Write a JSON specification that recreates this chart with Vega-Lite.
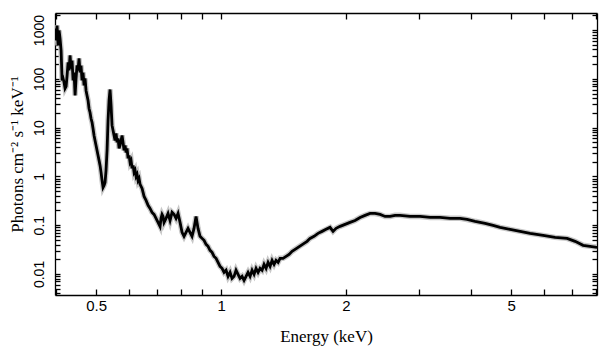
{
  "$schema": "https://vega.github.io/schema/vega-lite/v6.json",
  "width": 542,
  "height": 282,
  "autosize": "none",
  "padding": {"left": 55, "top": 13, "right": 12, "bottom": 62},
  "background": "white",
  "config": {
    "view": {"stroke": null},
    "axis": {
      "domainColor": "black", "domainWidth": 1.3,
      "tickColor": "black", "tickWidth": 1.3,
      "labelFont": "Liberation Sans", "labelFontSize": 15, "labelColor": "black",
      "titleFont": "Liberation Serif", "titleFontSize": 17, "titleFontWeight": "normal", "titleColor": "black",
      "grid": false, "labelOverlap": false, "labelFlush": false
    }
  },
  "data": {"values": [
    {"e":0.398,"f":1079},{"e":0.400,"f":612},{"e":0.4026,"f":1242},{"e":0.4048,"f":484},{"e":0.4071,"f":981},{"e":0.4093,"f":673},{"e":0.4117,"f":382},{"e":0.4140,"f":92.8},{"e":0.4163,"f":102},{"e":0.4186,"f":84.4},
    {"e":0.4209,"f":63.6},{"e":0.4233,"f":69.8},{"e":0.4256,"f":117},{"e":0.4280,"f":217},{"e":0.4303,"f":149},{"e":0.4327,"f":302},{"e":0.4351,"f":163},{"e":0.4375,"f":238},{"e":0.4400,"f":92.8},{"e":0.4424,"f":135},
    {"e":0.4449,"f":45.7},{"e":0.4473,"f":102},{"e":0.4498,"f":188},{"e":0.4523,"f":149},{"e":0.4548,"f":262},{"e":0.4573,"f":135},{"e":0.4599,"f":188},{"e":0.4624,"f":92.8},{"e":0.4650,"f":135},{"e":0.4676,"f":73.2},
    {"e":0.4702,"f":102},{"e":0.4728,"f":57.8},{"e":0.4754,"f":45.7},{"e":0.4781,"f":36.1},{"e":0.4807,"f":24.7},{"e":0.4834,"f":20.5},{"e":0.4861,"f":15.4},{"e":0.4888,"f":12.8},{"e":0.4915,"f":9.63},{"e":0.4943,"f":6.92},
    {"e":0.4970,"f":5.47},{"e":0.4998,"f":4.32},{"e":0.5026,"f":3.41},{"e":0.5054,"f":2.69},{"e":0.5082,"f":2.13},{"e":0.5110,"f":1.68},{"e":0.5139,"f":1.21},{"e":0.5167,"f":0.828},{"e":0.5196,"f":0.595},{"e":0.5225,"f":0.654},
    {"e":0.5254,"f":0.754},{"e":0.5283,"f":1.33},{"e":0.5313,"f":3.41},{"e":0.5342,"f":14.0},{"e":0.5372,"f":36.1},{"e":0.5402,"f":60.6},{"e":0.5432,"f":28.5},{"e":0.5462,"f":11.1},{"e":0.5493,"f":8.76},{"e":0.5523,"f":6.92},
    {"e":0.5554,"f":5.47},{"e":0.5585,"f":7.61},{"e":0.5616,"f":4.98},{"e":0.5647,"f":6.01},{"e":0.5679,"f":3.75},{"e":0.5710,"f":4.32},{"e":0.5742,"f":5.47},{"e":0.5774,"f":6.92},{"e":0.5806,"f":4.98},{"e":0.5838,"f":3.41},
    {"e":0.5871,"f":4.32},{"e":0.5904,"f":3.10},{"e":0.5936,"f":3.75},{"e":0.5970,"f":2.34},{"e":0.6003,"f":2.69},{"e":0.6036,"f":1.94},{"e":0.6070,"f":2.13},{"e":0.6103,"f":1.46},{"e":0.6138,"f":1.68},{"e":0.6172,"f":1.21},
    {"e":0.6206,"f":1.33},{"e":0.6241,"f":1.00},{"e":0.6275,"f":1.10},{"e":0.6310,"f":0.828},{"e":0.6345,"f":0.910},{"e":0.6381,"f":0.686},{"e":0.6452,"f":0.568},{"e":0.6524,"f":0.389},{"e":0.6596,"f":0.322},{"e":0.6670,"f":0.255},
    {"e":0.6744,"f":0.221},{"e":0.6819,"f":0.183},{"e":0.6895,"f":0.166},{"e":0.6972,"f":0.138},{"e":0.7050,"f":0.114},{"e":0.7128,"f":0.0945},{"e":0.7168,"f":0.138},{"e":0.7208,"f":0.166},{"e":0.7248,"f":0.151},{"e":0.7288,"f":0.114},
    {"e":0.7369,"f":0.138},{"e":0.7452,"f":0.174},{"e":0.7535,"f":0.125},{"e":0.7619,"f":0.183},{"e":0.7704,"f":0.166},{"e":0.7790,"f":0.138},{"e":0.7877,"f":0.174},{"e":0.7965,"f":0.114},{"e":0.8054,"f":0.0712},{"e":0.8143,"f":0.0590},
    {"e":0.8234,"f":0.0712},{"e":0.8326,"f":0.0860},{"e":0.8418,"f":0.0712},{"e":0.8512,"f":0.0590},{"e":0.8607,"f":0.0860},{"e":0.8704,"f":0.151},{"e":0.8800,"f":0.0860},{"e":0.8899,"f":0.0590},{"e":0.8999,"f":0.0536},{"e":0.9100,"f":0.0488},
    {"e":0.9202,"f":0.0404},{"e":0.9304,"f":0.0368},{"e":0.9408,"f":0.0305},{"e":0.9513,"f":0.0277},{"e":0.9619,"f":0.0229},{"e":0.9727,"f":0.0209},{"e":0.9835,"f":0.0173},{"e":0.9945,"f":0.0143},{"e":1.0056,"f":0.0130},{"e":1.0168,"f":0.0108},
    {"e":1.0281,"f":0.0119},{"e":1.0396,"f":0.00893},{"e":1.0512,"f":0.0108},{"e":1.0629,"f":0.00813},{"e":1.0748,"f":0.00893},{"e":1.0867,"f":0.0119},{"e":1.0989,"f":0.00981},{"e":1.1111,"f":0.00813},{"e":1.1236,"f":0.00893},{"e":1.1361,"f":0.00740},
    {"e":1.1488,"f":0.00893},{"e":1.1616,"f":0.0108},{"e":1.1746,"f":0.00893},{"e":1.1877,"f":0.0119},{"e":1.2010,"f":0.00981},{"e":1.2144,"f":0.0130},{"e":1.2279,"f":0.0108},{"e":1.2416,"f":0.0130},{"e":1.2555,"f":0.0119},{"e":1.2695,"f":0.0157},
    {"e":1.2837,"f":0.0130},{"e":1.2980,"f":0.0173},{"e":1.3125,"f":0.0143},{"e":1.3271,"f":0.0190},{"e":1.3419,"f":0.0157},{"e":1.3569,"f":0.0190},{"e":1.3721,"f":0.0173},{"e":1.3873,"f":0.0209},{"e":1.4107,"f":0.0209},{"e":1.4344,"f":0.0229},
    {"e":1.4585,"f":0.0252},{"e":1.4829,"f":0.0291},{"e":1.5079,"f":0.0319},{"e":1.5332,"f":0.0351},{"e":1.5589,"f":0.0386},{"e":1.5849,"f":0.0424},{"e":1.6115,"f":0.0466},{"e":1.6385,"f":0.0536},{"e":1.6752,"f":0.0590},{"e":1.7128,"f":0.0679},
    {"e":1.7512,"f":0.0746},{"e":1.7904,"f":0.0820},{"e":1.8306,"f":0.0901},{"e":1.8614,"f":0.0746},{"e":1.8927,"f":0.0860},{"e":1.9352,"f":0.0945},{"e":1.9897,"f":0.104},{"e":2.0456,"f":0.114},{"e":2.1032,"f":0.125},{"e":2.1623,"f":0.144},
    {"e":2.2231,"f":0.159},{"e":2.2857,"f":0.174},{"e":2.3499,"f":0.174},{"e":2.4160,"f":0.166},{"e":2.4840,"f":0.151},{"e":2.5539,"f":0.151},{"e":2.6257,"f":0.159},{"e":2.6996,"f":0.159},{"e":2.8537,"f":0.151},{"e":3.0166,"f":0.151},
    {"e":3.1888,"f":0.144},{"e":3.3708,"f":0.144},{"e":3.5632,"f":0.138},{"e":3.7666,"f":0.138},{"e":3.9155,"f":0.131},{"e":4.0931,"f":0.120},{"e":4.3268,"f":0.109},{"e":4.5231,"f":0.0991},{"e":4.7022,"f":0.0901},{"e":4.9705,"f":0.0820},
    {"e":5.2542,"f":0.0746},{"e":5.5541,"f":0.0679},{"e":5.9700,"f":0.0618},{"e":6.3796,"f":0.0562},{"e":6.8200,"f":0.0536},{"e":7.1285,"f":0.0466},{"e":7.4520,"f":0.0386},{"e":7.7476,"f":0.0368},{"e":8.0538,"f":0.0351}
  ]},
  "layer": [
    {
      "mark": {"type": "line", "color": "#c8c8c8", "strokeWidth": 5.5, "clip": true},
      "encoding": {
        "x": {"field": "e", "type": "quantitative",
          "scale": {"type": "log", "domain": [0.398, 8.05], "nice": false},
          "axis": {"orient": "bottom", "title": "Energy (keV)",
            "values": [0.4,0.5,0.6,0.7,0.8,0.9,1,2,3,4,5,6,7,8],
            "format": "~g",
            "labelExpr": "indexof([0.5,1,2,5], datum.value) >= 0 ? datum.label : ''",
            "tickSize": -6,
            "labelPadding": 9, "titlePadding": 15}},
        "y": {"field": "f", "type": "quantitative",
          "scale": {"type": "log", "domain": [0.0037, 2240], "nice": false},
          "axis": {"orient": "left", "title": "Photons cm⁻² s⁻¹ keV⁻¹",
            "values": [0.004,0.005,0.006,0.007,0.008,0.009,0.01,0.02,0.03,0.04,0.05,0.06,0.07,0.08,0.09,0.1,0.2,0.3,0.4,0.5,0.6,0.7,0.8,0.9,1,2,3,4,5,6,7,8,9,10,20,30,40,50,60,70,80,90,100,200,300,400,500,600,700,800,900,1000,2000],
            "format": "~g",
            "labelFontSize": 14,
            "labelExpr": "indexof([0.01,0.1,1,10,100,1000], datum.value) >= 0 ? datum.label : ''",
            "tickSize": -5,
            "labelAngle": 270, "labelAlign": "center", "labelBaseline": "bottom",
            "labelPadding": 14, "titlePadding": 6}}
      }
    },
    {
      "mark": {"type": "line", "color": "black", "strokeWidth": 2.8, "clip": true},
      "encoding": {
        "x": {"field": "e", "type": "quantitative",
          "axis": {"orient": "top", "title": null, "labels": false,
            "values": [0.4,0.5,0.6,0.7,0.8,0.9,1,2,3,4,5,6,7,8],
            "tickSize": -6}},
        "y": {"field": "f", "type": "quantitative",
          "axis": {"orient": "right", "title": null, "labels": false,
            "values": [0.004,0.005,0.006,0.007,0.008,0.009,0.01,0.02,0.03,0.04,0.05,0.06,0.07,0.08,0.09,0.1,0.2,0.3,0.4,0.5,0.6,0.7,0.8,0.9,1,2,3,4,5,6,7,8,9,10,20,30,40,50,60,70,80,90,100,200,300,400,500,600,700,800,900,1000,2000],
            "tickSize": -5}}
      }
    }
  ],
  "resolve": {"axis": {"x": "independent", "y": "independent"}}
}
